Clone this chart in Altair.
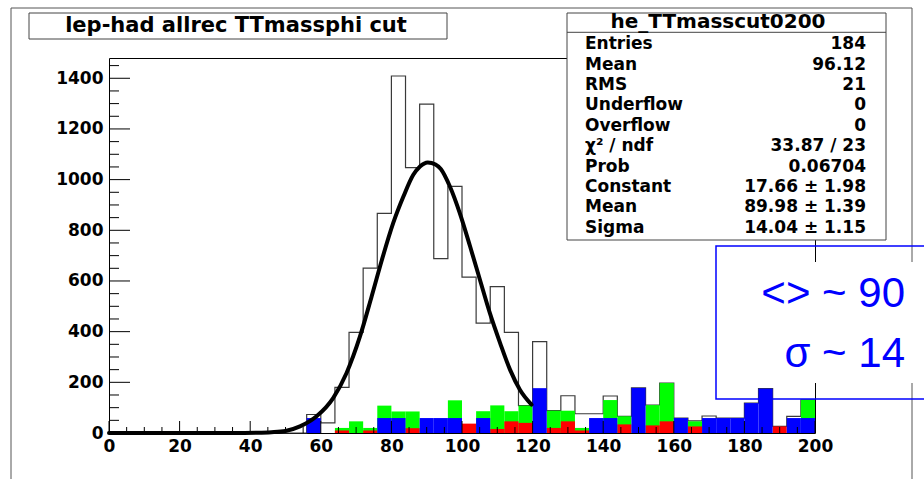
import altair as alt
import pandas as pd

# ---------------- data ----------------
bin_left = list(range(0, 200, 4))
total = [0] * 14 + [73, 40, 180, 397, 651, 867, 1409, 1047, 1298, 688,
                    973, 615, 434, 578, 397, 108, 361, 88, 147, 76,
                    76, 146, 66, 178, 110, 197, 59, 48, 67, 59,
                    59, 118, 175, 26, 66, 131]
green = [0] * 14 + [0, 0, 20, 46, 20, 108, 85, 85, 0, 0,
                    129, 0, 86, 109, 86, 108, 0, 88, 88, 20,
                    0, 130, 66, 0, 110, 197, 0, 46, 0, 0,
                    0, 0, 0, 0, 0, 131]
red = [0] * 14 + [0, 0, 10, 0, 10, 0, 0, 19, 0, 0,
                  0, 37, 0, 16, 46, 40, 0, 20, 46, 10,
                  0, 0, 34, 0, 30, 46, 0, 26, 0, 0,
                  0, 0, 0, 26, 0, 0]
blue = [0] * 14 + [59, 0, 0, 0, 0, 59, 59, 0, 59, 59,
                   59, 0, 59, 0, 0, 0, 177, 0, 0, 0,
                   59, 59, 0, 178, 0, 0, 59, 0, 59, 59,
                   59, 118, 175, 0, 59, 59]

fit_x = [0, 20, 35, 42, 46, 50, 54.1, 58.8, 63.5, 67.3, 71.1, 74.4, 77.3, 80.5,
         83.4, 86.2, 88.1, 90.3, 92.5, 94.0, 96.6, 99.4, 102.3, 105.1, 107.9,
         110.8, 113.6, 116.4, 119.7]
fit_y = [0, 0, 0, 1, 3, 8, 26, 66, 138, 237, 381, 539, 683, 828,
         933, 1019, 1052, 1068, 1060, 1042, 972, 867, 736, 604, 473,
         355, 250, 171, 112]

xtick_major = list(range(0, 201, 20))
xtick_minor = [v for v in range(0, 201, 5) if v % 20]
ytick_major = list(range(0, 1401, 200))
ytick_minor = [v for v in range(0, 1451, 50) if v % 200]

title_text = "lep-had allrec TTmassphi cut"
stats_title = "he_TTmasscut0200"
stats_labels = ["Entries", "Mean", "RMS", "Underflow", "Overflow", "χ² / ndf",
                "Prob", "Constant", "Mean", "Sigma"]
stats_values = ["184", "96.12", "21", "0", "0", "33.87 / 23", "0.06704",
                "17.66 ± 1.98", "89.98 ± 1.39", "14.04 ± 1.15"]
note_lines = ["<> ~ 90", "σ ~ 14"]

# ---------------- tables ----------------
df_bins = pd.DataFrame({
    "lo": bin_left,
    "hi": [b + 4 for b in bin_left],
    "g": green, "r": red, "b": blue,
})
df_total = pd.DataFrame({"x": bin_left + [200], "y": total + [total[-1]]})
df_fit = pd.DataFrame({"x": fit_x, "y": fit_y})
df_xmaj = pd.DataFrame({"v": xtick_major})
df_xmin = pd.DataFrame({"v": xtick_minor})
df_ymaj = pd.DataFrame({"v": ytick_major})
df_ymin = pd.DataFrame({"v": ytick_minor})
one = pd.DataFrame({"a": [0]})

W, H = 706, 375
BOLD = "DejaVu Sans"

xscale = alt.Scale(domain=[0, 200], nice=False, zero=False)
yscale = alt.Scale(domain=[0, 1480], nice=False)
xaxis = alt.Axis(values=xtick_major, title=None, ticks=False, domain=False, grid=False,
                 format="d",
                 labelFont=BOLD, labelFontWeight="bold", labelFontSize=17,
                 labelColor="black", labelPadding=5, labelFlush=False, labelOverlap=False)
yaxis = alt.Axis(values=ytick_major, title=None, ticks=False, domain=False, grid=False,
                 format="d",
                 labelFont=BOLD, labelFontWeight="bold", labelFontSize=17,
                 labelColor="black", labelPadding=6, labelFlush=False, labelOverlap=False)


def X(f):
    return alt.X(f, scale=xscale, axis=xaxis)


def Y(f):
    return alt.Y(f, scale=yscale, axis=yaxis)


# ---------------- decorations ----------------
outer = alt.Chart(one).mark_rect(fillOpacity=0, stroke="#555555", strokeWidth=1).encode(
    x=alt.value(-98), x2=alt.value(803), y=alt.value(-50), y2=alt.value(460))

title_box = alt.Chart(one).mark_rect(fill="white", stroke="#444444", strokeWidth=1).encode(
    x=alt.value(-80), x2=alt.value(338), y=alt.value(-45), y2=alt.value(-19))
title_lbl = alt.Chart(one).mark_text(font=BOLD, fontWeight="bold", fontSize=21,
                                     align="center", baseline="alphabetic", color="black").encode(
    x=alt.value(127), y=alt.value(-26), text=alt.value(title_text))

# ---------------- histograms ----------------
step = alt.Chart(df_total).mark_line(interpolate="step-after", color="#3a3a3a",
                                     strokeWidth=1.2).encode(x=X("x:Q"), y=Y("y:Q"))


def bars(col, color):
    return alt.Chart(df_bins).transform_filter(f"datum.{col} > 0").mark_rect(color=color).encode(
        x=X("lo:Q"), x2="hi:Q", y=Y(f"{col}:Q"), y2=alt.datum(0))


g_bars = bars("g", "#00ff00")
r_bars = bars("r", "#ff0000")
b_bars = bars("b", "#0000ff")

fit = alt.Chart(df_fit).mark_line(interpolate="monotone", color="black", strokeWidth=4,
                                  strokeCap="round").encode(x=X("x:Q"), y=Y("y:Q"))

# ---------------- inward ticks ----------------
xt_maj = alt.Chart(df_xmaj).mark_rule(color="black", strokeWidth=1).encode(
    x=X("v:Q"), y=alt.value(H), y2=alt.value(H - 12))
xt_min = alt.Chart(df_xmin).mark_rule(color="black", strokeWidth=1).encode(
    x=X("v:Q"), y=alt.value(H), y2=alt.value(H - 6))
yt_maj = alt.Chart(df_ymaj).mark_rule(color="black", strokeWidth=1).encode(
    y=Y("v:Q"), x=alt.value(0), x2=alt.value(21))
yt_min = alt.Chart(df_ymin).mark_rule(color="black", strokeWidth=1).encode(
    y=Y("v:Q"), x=alt.value(0), x2=alt.value(10))

# ---------------- stats box ----------------
st_box = alt.Chart(one).mark_rect(fill="white", stroke="#444444", strokeWidth=1).encode(
    x=alt.value(458), x2=alt.value(777), y=alt.value(-45), y2=alt.value(182))
st_sep = alt.Chart(one).mark_rule(color="#444444", strokeWidth=1).encode(
    x=alt.value(458), x2=alt.value(777), y=alt.value(-25.7))
st_title = alt.Chart(one).mark_text(font=BOLD, fontWeight="bold", fontSize=20,
                                    align="center", baseline="alphabetic", color="black").encode(
    x=alt.value(609), y=alt.value(-30), text=alt.value(stats_title))
st_lab = alt.Chart(one).mark_text(font=BOLD, fontWeight="bold", fontSize=17, lineBreak="\n",
                                  lineHeight=20.4, align="left", baseline="alphabetic",
                                  color="black").encode(
    x=alt.value(476), y=alt.value(-8.7), text=alt.value("\n".join(stats_labels)))
st_val = alt.Chart(one).mark_text(font=BOLD, fontWeight="bold", fontSize=17, lineBreak="\n",
                                  lineHeight=20.4, align="right", baseline="alphabetic",
                                  color="black").encode(
    x=alt.value(757), y=alt.value(-8.7), text=alt.value("\n".join(stats_values)))

# ---------------- blue note ----------------
note_bg = alt.Chart(one).mark_rect(fill="white").encode(
    x=alt.value(636), x2=alt.value(830), y=alt.value(204), y2=alt.value(325))
note_box = alt.Chart(one).mark_rect(fillOpacity=0, stroke="#0000ff", strokeWidth=1.5).encode(
    x=alt.value(607), x2=alt.value(840), y=alt.value(188), y2=alt.value(341))
note1 = alt.Chart(one).mark_text(font="Liberation Sans", fontSize=42, align="right",
                                 baseline="alphabetic", color="#0000ff").encode(
    x=alt.value(796), y=alt.value(248.7), text=alt.value(note_lines[0]))
note2 = alt.Chart(one).mark_text(font="Liberation Sans", fontSize=42, align="right",
                                 baseline="alphabetic", color="#0000ff").encode(
    x=alt.value(796), y=alt.value(309.3), text=alt.value(note_lines[1]))

chart = alt.layer(
    outer, title_box, title_lbl,
    step, g_bars, r_bars, b_bars, fit,
    xt_maj, xt_min, yt_maj, yt_min,
    st_box, st_sep, st_title, st_lab, st_val,
    note_bg, note_box, note1, note2,
).properties(
    width=W, height=H,
    autosize=alt.AutoSizeParams(type="none"),
    padding={"left": 109, "top": 58, "right": 109, "bottom": 46},
    background="white",
).configure_view(stroke="black", strokeWidth=1)

chart.save("out.html", embed_options={"renderer": "svg", "actions": False})
